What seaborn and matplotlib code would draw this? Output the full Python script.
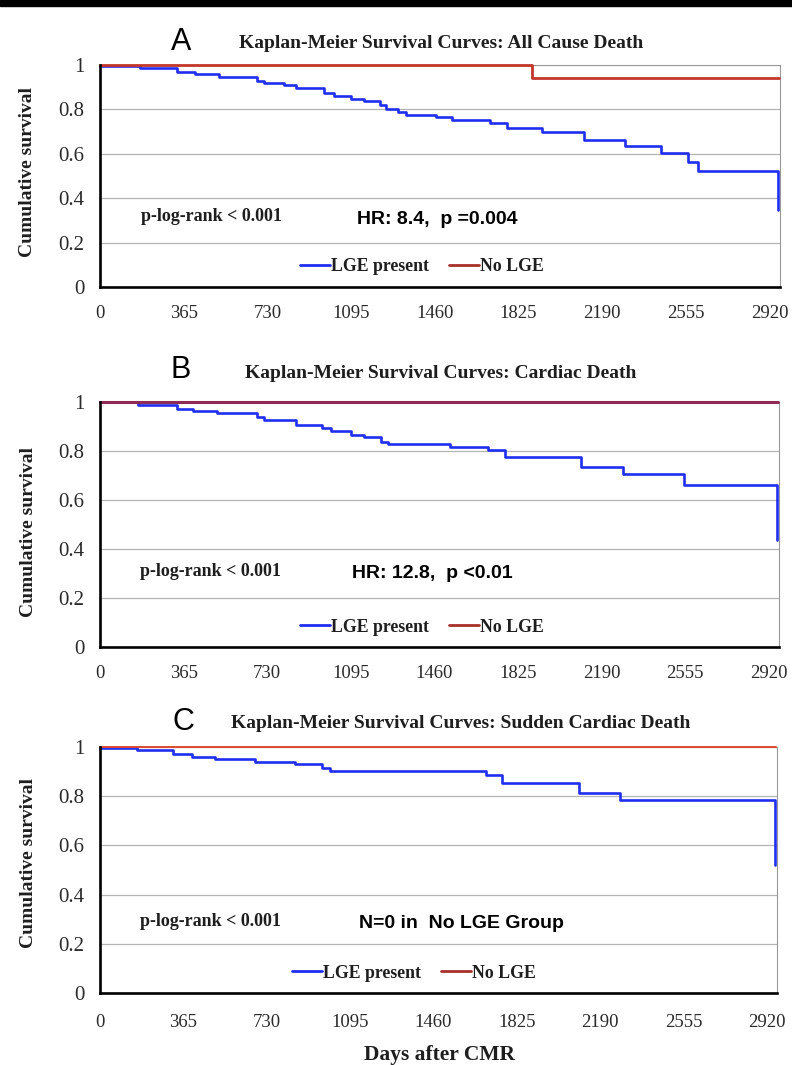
import numpy as np
import pandas as pd
import matplotlib
matplotlib.use("Agg")
import matplotlib.pyplot as plt
import seaborn as sns
from matplotlib.lines import Line2D
from matplotlib.patches import Rectangle

# ---- Kaplan-Meier step data: day of each step and survival from that day on ----
# Panel A: all cause death
a_lge_days = [0, 175, 336, 416, 517, 686, 714, 802, 854, 977, 1021, 1095, 1152,
              1222, 1248, 1301, 1336, 1467, 1533, 1699, 1774, 1927, 2110, 2291,
              2444, 2562, 2606, 2958]
a_lge_surv = [0.995, 0.985, 0.967, 0.958, 0.946, 0.928, 0.917, 0.910, 0.895,
              0.872, 0.862, 0.847, 0.839, 0.820, 0.800, 0.787, 0.775, 0.764,
              0.752, 0.737, 0.715, 0.697, 0.662, 0.637, 0.602, 0.565, 0.524,
              0.347]
a_nolge_days = [0, 1885, 2962]
a_nolge_surv = [1.0, 0.943, 0.943]

# Panel B: cardiac death
b_lge_days = [0, 166, 336, 407, 511, 686, 714, 854, 971, 1007, 1095, 1152, 1226,
              1256, 1529, 1694, 1770, 2102, 2282, 2552, 2956]
b_lge_surv = [0.998, 0.988, 0.970, 0.964, 0.956, 0.940, 0.927, 0.906, 0.893,
              0.883, 0.865, 0.856, 0.838, 0.827, 0.818, 0.804, 0.774, 0.736,
              0.706, 0.661, 0.437]
b_nolge_days = [0, 2962]
b_nolge_surv = [1.0, 1.0]

# Panel C: sudden cardiac death
c_lge_days = [0, 161, 321, 402, 504, 679, 854, 971, 1007, 1689, 1762, 2098,
              2278, 2955]
c_lge_surv = [0.997, 0.988, 0.970, 0.960, 0.950, 0.940, 0.929, 0.913, 0.902,
              0.886, 0.855, 0.815, 0.785, 0.520]
c_nolge_days = [0, 2962]
c_nolge_surv = [1.0, 1.0]

x_ticks = [0, 365, 730, 1095, 1460, 1825, 2190, 2555, 2920]
y_ticks = [0, 0.2, 0.4, 0.6, 0.8, 1.0]
y_tick_labels = ["0", "0.2", "0.4", "0.6", "0.8", "1"]

panel_letters = ["A", "B", "C"]
panel_titles = ["Kaplan-Meier Survival Curves: All Cause Death",
                "Kaplan-Meier Survival Curves: Cardiac Death",
                "Kaplan-Meier Survival Curves: Sudden Cardiac Death"]
logrank_text = "p-log-rank < 0.001"
stat_texts = ["HR: 8.4,  p =0.004", "HR: 12.8,  p <0.01", "N=0 in  No LGE Group"]
legend_labels = ["LGE present", "No LGE"]
y_label = "Cumulative survival"
x_label = "Days after CMR"

# ---- styling ----
sns.set_style("white")
SERIF = ["Liberation Serif", "DejaVu Serif"]
SANS = ["Liberation Sans", "DejaVu Sans"]
plt.rcParams["font.family"] = SERIF

W, H = 792, 1065
fig = plt.figure(figsize=(W / 100, H / 100), dpi=100)
fig.patch.set_facecolor("white")

# black band along the top edge
fig.add_artist(Rectangle((0, 1 - 6 / H), 1, 6 / H, transform=fig.transFigure,
                         color="black", zorder=10))

BLUE = "#1f2ef0"
TEXT = "#1e1e1e"
XMAX = 2965


def px_axes(left, right, top, bottom):
    return fig.add_axes([left / W, 1 - bottom / H, (right - left) / W, (bottom - top) / H])


def day_at(px, left, right):
    return (px - left) / (right - left) * XMAX


def km_panel(ax, lge_d, lge_s, no_d, no_s, red_color, red_lw, red_line_color,
             tick_pad, ylab_y):
    lge = pd.DataFrame({"day": lge_d, "surv": lge_s})
    nolge = pd.DataFrame({"day": no_d, "surv": no_s})
    sns.lineplot(data=lge, x="day", y="surv", ax=ax, color=BLUE, linewidth=1.9,
                 drawstyle="steps-post", estimator=None, clip_on=False, zorder=4)
    sns.lineplot(data=nolge, x="day", y="surv", ax=ax, color=red_line_color,
                 linewidth=red_lw, drawstyle="steps-post", estimator=None,
                 clip_on=False, zorder=5)
    ax.set_xlim(0, XMAX)
    ax.set_ylim(0, 1)
    ax.set_xticks(x_ticks)
    ax.set_yticks(y_ticks)
    ax.set_yticklabels(y_tick_labels)
    ax.yaxis.grid(True, color="#b4b4b4", linewidth=0.9)
    ax.xaxis.grid(False)
    ax.set_axisbelow(True)
    for side in ("left", "bottom"):
        ax.spines[side].set_color("black")
        ax.spines[side].set_linewidth(1.9)
        ax.spines[side].set_zorder(6)
    for side in ("top", "right"):
        ax.spines[side].set_color("#9a9a9a")
        ax.spines[side].set_linewidth(0.8)
    ax.tick_params(axis="x", direction="out", length=5, width=1.8, color="black",
                   labelsize=13.5, pad=tick_pad, labelcolor="#2a2a2a")
    ax.tick_params(axis="y", direction="out", length=3, width=1.8, color="black",
                   labelsize=15, pad=8, labelcolor="#2a2a2a")
    ax.set_xlabel("")
    ax.set_ylabel(y_label, fontsize=14, fontweight="bold", color=TEXT, va="center")
    ax.yaxis.set_label_coords(-0.106, ylab_y)
    handles = [Line2D([], [], color=BLUE, linewidth=2.0),
               Line2D([], [], color=red_color, linewidth=2.0)]
    return handles


# ---- panel geometry in pixels: left, right, top, bottom ----
geom = [(100, 780, 65, 287), (100, 779, 402, 647), (100, 777, 747, 993)]
lge_days = [a_lge_days, b_lge_days, c_lge_days]
lge_surv = [a_lge_surv, b_lge_surv, c_lge_surv]
no_days = [a_nolge_days, b_nolge_days, c_nolge_days]
no_surv = [a_nolge_surv, b_nolge_surv, c_nolge_surv]
red_curve_colors = ["#c4362a", "#8f2a55", "#de4a30"]
red_widths = [2.0, 2.2, 1.4]
tick_pads = [8, 8, 10]
ylab_pos = [0.52, 0.47, 0.53]

letter_pos = [(181, 42), (181, 370), (183, 722)]
title_pos = [(441, 43), (441, 373), (461, 723)]
logrank_pos = [(141, 217), (140, 572), (140, 922)]
stat_pos = [(357, 220), (352, 573), (359, 923)]
legend_pos = [(300, 267), (300, 627), (292, 973)]

for i in range(3):
    l, r, t, b = geom[i]
    ax = px_axes(l, r, t, b)
    handles = km_panel(ax, lge_days[i], lge_surv[i], no_days[i], no_surv[i],
                       "#a8302a", red_widths[i], red_curve_colors[i],
                       tick_pads[i], ylab_pos[i])

    # annotations inside the plot area (placed in data coordinates)
    lx, ly = logrank_pos[i]
    ax.text(day_at(lx, l, r), (b - ly) / (b - t), logrank_text, fontsize=13,
            fontweight="bold", color=TEXT, ha="left", va="center", family=SERIF)
    sx, sy = stat_pos[i]
    ax.text(day_at(sx, l, r), (b - sy) / (b - t), stat_texts[i], fontsize=14,
            fontweight="bold", color="black", ha="left", va="center", family=SANS)

    gx, gy = legend_pos[i]
    ax.legend(handles, legend_labels, loc="center left",
              bbox_to_anchor=((gx - l) / (r - l), (b - gy) / (b - t)),
              ncol=2, frameon=False, borderpad=0, borderaxespad=0,
              handlelength=1.7, handletextpad=0.05, columnspacing=1.1,
              prop={"family": SERIF, "weight": "bold", "size": 12.8},
              labelcolor=TEXT)

    # panel letter and title
    fx, fy = letter_pos[i]
    fig.text(fx / W, 1 - fy / H, panel_letters[i], fontsize=22, family=SANS,
             color="black", ha="center", va="center")
    tx, ty = title_pos[i]
    fig.text(tx / W, 1 - ty / H, panel_titles[i], fontsize=14, fontweight="bold",
             family=SERIF, color=TEXT, ha="center", va="center")

fig.text(440 / W, 1 - 1055 / H, x_label, fontsize=15.5, fontweight="bold",
         family=SERIF, color=TEXT, ha="center", va="center")

fig.savefig("out.png", dpi=100, facecolor="white")
